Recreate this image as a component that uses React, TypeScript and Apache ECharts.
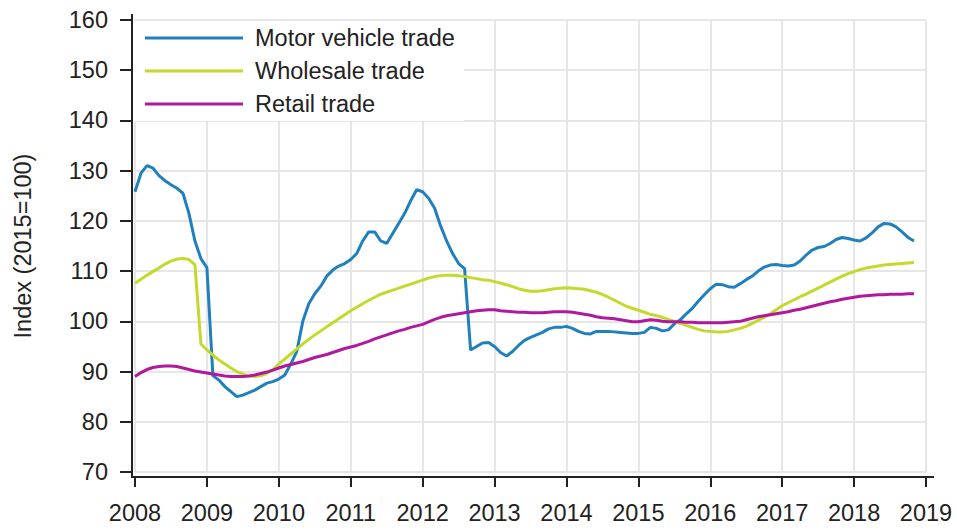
import React, { useEffect, useRef } from "react";
import * as echarts from "echarts";

const startYear = 2008;
const yearTicks = [2008, 2009, 2010, 2011, 2012, 2013, 2014, 2015, 2016, 2017, 2018, 2019];
const seriesNames = ["Motor vehicle trade", "Wholesale trade", "Retail trade"];
const seriesColors = ["#1f80bd", "#c3d92c", "#b1189b"];

// Monthly index values, 2008M01 .. 2018M11
const motorVehicle = [
  125.8, 129.5, 131, 130.5, 129, 128, 127.2, 126.5, 125.5, 121.5, 116, 112.5,
  110.7, 89.2, 88.3, 87, 86, 85, 85.3, 85.8, 86.3, 87, 87.7, 88,
  88.5, 89.3, 91.5, 94, 100, 103.5, 105.5, 107, 109, 110.2, 111, 111.5,
  112.3, 113.5, 116, 117.8, 117.8, 116, 115.5, 117.5, 119.5, 121.5, 124, 126.2,
  125.8, 124.5, 122.5, 119, 116, 113.5, 111.5, 110.5, 94.3, 95, 95.7, 95.8,
  95, 93.8, 93.1, 94, 95.2, 96.2, 96.8, 97.3, 97.8, 98.5, 98.8, 98.8,
  99, 98.6, 98, 97.6, 97.5, 98, 98, 98, 97.9, 97.8, 97.7, 97.6,
  97.6, 97.8, 98.8, 98.6, 98.1, 98.3, 99.5, 100.3, 101.5, 102.6, 104, 105.3,
  106.5, 107.4, 107.3, 106.9, 106.8, 107.5, 108.3, 109, 110, 110.8, 111.2, 111.3,
  111.1, 111, 111.2, 112, 113.2, 114.2, 114.7, 114.9, 115.5, 116.3, 116.7, 116.5,
  116.2, 116, 116.6, 117.6, 118.8, 119.5, 119.4, 118.8, 117.8, 116.7, 116,
];

const wholesale = [
  107.6, 108.4, 109.2, 109.9, 110.6, 111.4, 112, 112.4, 112.5, 112.3, 111.3, 95.5,
  94.3, 93.3, 92.3, 91.5, 90.7, 90, 89.5, 89.1, 89, 89.2, 89.6, 90.4,
  91.5, 92.5, 93.5, 94.5, 95.5, 96.4, 97.3, 98.1, 98.9, 99.7, 100.5, 101.3,
  102.1, 102.8, 103.5, 104.2, 104.8, 105.4, 105.8, 106.2, 106.6, 107, 107.4, 107.8,
  108.2, 108.6, 108.9, 109.1, 109.2, 109.2, 109.1, 108.9, 108.7, 108.5, 108.3, 108.2,
  107.9, 107.6, 107.3, 106.9, 106.5, 106.2, 106, 106, 106.1, 106.3, 106.5, 106.6,
  106.7, 106.6, 106.5, 106.4, 106.1, 105.8, 105.3, 104.8, 104.2, 103.6, 103, 102.6,
  102.2, 101.8, 101.4, 101.1, 100.8, 100.4, 100, 99.6, 99.2, 98.8, 98.4, 98.1,
  98, 97.9, 97.9, 98, 98.3, 98.6, 99, 99.6, 100.2, 100.8, 101.5, 102.3,
  103.1, 103.7, 104.3, 104.9, 105.4, 106, 106.6, 107.2, 107.8, 108.4, 109, 109.5,
  109.9, 110.3, 110.6, 110.8, 111, 111.2, 111.3, 111.4, 111.5, 111.6, 111.7,
];

const retail = [
  89, 89.8, 90.4, 90.8, 91, 91.1, 91.1, 91, 90.7, 90.4, 90.1, 89.9,
  89.7, 89.5, 89.3, 89.1, 89, 89, 89, 89.1, 89.3, 89.6, 89.9, 90.3,
  90.7, 91.1, 91.4, 91.7, 92, 92.4, 92.8, 93.1, 93.4, 93.8, 94.2, 94.6,
  94.9, 95.2, 95.6, 96, 96.5, 96.9, 97.3, 97.7, 98.1, 98.4, 98.8, 99.1,
  99.4, 99.9, 100.4, 100.8, 101.1, 101.3, 101.5, 101.7, 101.9, 102.1, 102.2, 102.3,
  102.3, 102.1, 102, 101.9, 101.8, 101.8, 101.7, 101.7, 101.7, 101.8, 101.9, 101.9,
  101.9, 101.8, 101.6, 101.4, 101.2, 100.9, 100.7, 100.6, 100.5, 100.3, 100.1, 99.9,
  99.9, 100.1, 100.3, 100.2, 100, 99.9, 99.9, 99.9, 99.8, 99.8, 99.7, 99.7,
  99.7, 99.7, 99.7, 99.8, 99.9, 100, 100.3, 100.6, 100.9, 101.1, 101.3, 101.5,
  101.7, 101.9, 102.2, 102.4, 102.7, 103, 103.3, 103.6, 103.9, 104.1, 104.4, 104.6,
  104.8, 105, 105.1, 105.2, 105.3, 105.3, 105.4, 105.4, 105.4, 105.5, 105.5,
];

const yTicks = [70, 80, 90, 100, 110, 120, 130, 140, 150, 160];

const FONT = "'Liberation Sans', Arial, sans-serif";
const TEXT = "#222222";
const GRID = "#e6e6e6";

function toPairs(values: number[]) {
  return values.map((v, i) => [startYear + i / 12, v]);
}

export default function App() {
  const ref = useRef<HTMLDivElement>(null);

  useEffect(() => {
    if (!ref.current) return;
    const chart = echarts.init(ref.current, undefined, { renderer: "svg" });
    const allSeries = [motorVehicle, wholesale, retail];
    chart.setOption({
      animation: false,
      backgroundColor: "#ffffff",
      textStyle: { fontFamily: FONT },
      grid: { left: 135, right: 31, top: 20, bottom: 59, containLabel: false },
      legend: {
        show: true,
        orient: "vertical",
        left: 133,
        top: 21,
        icon: "rect",
        itemWidth: 98,
        itemHeight: 3,
        itemGap: 9,
        padding: [5, 9, 5, 12],
        backgroundColor: "#ffffff",
        textStyle: { fontSize: 23.5, color: TEXT, fontFamily: FONT, padding: [0, 0, 0, 7] },
        data: seriesNames.map((n, i) => ({ name: n, itemStyle: { color: seriesColors[i] } })),
      },
      graphic: [
        // axis frame lines, extended slightly beyond the plot like the original
        { type: "line", z: 50, shape: { x1: 132, y1: 14, x2: 132, y2: 478 }, style: { stroke: TEXT, lineWidth: 2 } },
        { type: "line", z: 50, shape: { x1: 131, y1: 477, x2: 934, y2: 477 }, style: { stroke: TEXT, lineWidth: 2 } },
      ],
      xAxis: {
        type: "value",
        min: yearTicks[0],
        max: yearTicks[yearTicks.length - 1],
        interval: 1,
        offset: 5,
        axisLine: { show: false },
        axisTick: { show: true, length: 10, lineStyle: { color: TEXT, width: 2 } },
        axisLabel: {
          fontSize: 23.5,
          color: TEXT,
          fontFamily: FONT,
          margin: 24,
          formatter: (v: number) => String(Math.round(v)),
        },
        splitLine: { show: true, lineStyle: { color: GRID, width: 2 } },
      },
      yAxis: {
        type: "value",
        min: yTicks[0],
        max: yTicks[yTicks.length - 1],
        interval: 10,
        offset: 3,
        name: "Index (2015=100)",
        nameLocation: "middle",
        nameGap: 97,
        nameTextStyle: { fontSize: 23.5, color: TEXT, fontFamily: FONT },
        axisLine: { show: false },
        axisTick: { show: true, length: 12, lineStyle: { color: TEXT, width: 2 } },
        axisLabel: { fontSize: 23.5, color: TEXT, fontFamily: FONT, margin: 24 },
        splitLine: { show: true, lineStyle: { color: GRID, width: 2 } },
      },
      series: allSeries.map((vals, i) => ({
        name: seriesNames[i],
        type: "line",
        data: toPairs(vals),
        symbol: "none",
        showSymbol: false,
        smooth: false,
        color: seriesColors[i],
        lineStyle: { color: seriesColors[i], width: 3 },
      })),
    });
    return () => chart.dispose();
  }, []);

  return (
    <div
      ref={ref}
      style={{ position: "fixed", left: 0, top: 0, width: 957, height: 531, background: "#fff" }}
    />
  );
}
